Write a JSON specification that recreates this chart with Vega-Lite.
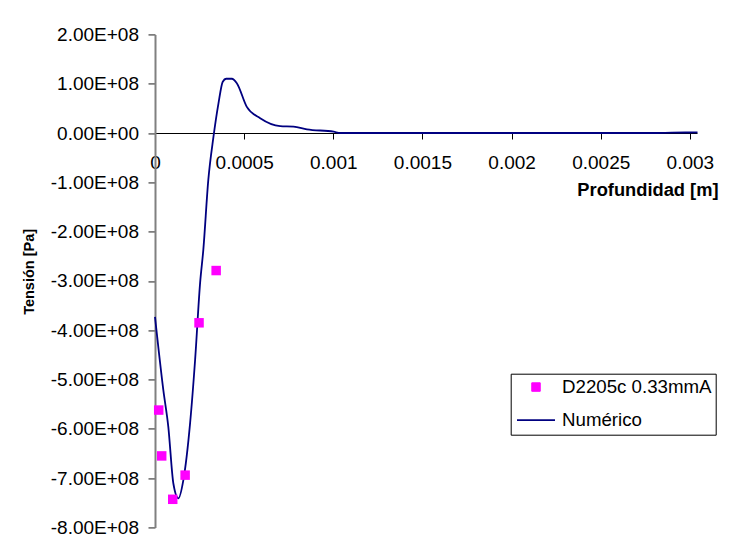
{
  "$schema": "https://vega.github.io/schema/vega-lite/v6.json",
  "autosize": "none",
  "width": 542,
  "height": 493,
  "padding": {"left": 155, "top": 34.4, "right": 47, "bottom": 30.6},
  "background": "white",
  "config": {
    "font": "Liberation Sans",
    "view": {"stroke": null},
    "axis": {"grid": false, "labelFont": "Liberation Sans", "titleFont": "Liberation Sans", "labelColor": "#000", "titleColor": "#000"}
  },
  "data": {"values": [
    {"series": "Numérico", "x": 0, "y": -373000000},
    {"series": "Numérico", "x": 0.0000466, "y": -521000000},
    {"series": "Numérico", "x": 0.0000747, "y": -596000000},
    {"series": "Numérico", "x": 0.000103, "y": -711000000},
    {"series": "Numérico", "x": 0.000131, "y": -741000000},
    {"series": "Numérico", "x": 0.000159, "y": -704000000},
    {"series": "Numérico", "x": 0.000197, "y": -588000000},
    {"series": "Numérico", "x": 0.000225, "y": -460000000},
    {"series": "Numérico", "x": 0.000253, "y": -304000000},
    {"series": "Numérico", "x": 0.000271, "y": -237000000},
    {"series": "Numérico", "x": 0.000299, "y": -95000000},
    {"series": "Numérico", "x": 0.000328, "y": -7500000},
    {"series": "Numérico", "x": 0.000356, "y": 60000000},
    {"series": "Numérico", "x": 0.00038, "y": 104000000},
    {"series": "Numérico", "x": 0.000399, "y": 110000000},
    {"series": "Numérico", "x": 0.000431, "y": 110000000},
    {"series": "Numérico", "x": 0.000459, "y": 101000000},
    {"series": "Numérico", "x": 0.000515, "y": 53000000},
    {"series": "Numérico", "x": 0.00059, "y": 30000000},
    {"series": "Numérico", "x": 0.000702, "y": 14000000},
    {"series": "Numérico", "x": 0.000777, "y": 13000000},
    {"series": "Numérico", "x": 0.000852, "y": 7500000},
    {"series": "Numérico", "x": 0.001002, "y": 2600000},
    {"series": "Numérico", "x": 0.00104, "y": 0},
    {"series": "Numérico", "x": 0.0015, "y": 0},
    {"series": "Numérico", "x": 0.002, "y": 0},
    {"series": "Numérico", "x": 0.0025, "y": 0},
    {"series": "Numérico", "x": 0.00278, "y": 0},
    {"series": "Numérico", "x": 0.0029, "y": 600000},
    {"series": "Numérico", "x": 0.003043, "y": 1300000},
    {"series": "D2205c 0.33mmA", "x": 0.0000208, "y": -562000000},
    {"series": "D2205c 0.33mmA", "x": 0.0000376, "y": -655000000},
    {"series": "D2205c 0.33mmA", "x": 0.0000994, "y": -743000000},
    {"series": "D2205c 0.33mmA", "x": 0.000169, "y": -694000000},
    {"series": "D2205c 0.33mmA", "x": 0.000247, "y": -385000000},
    {"series": "D2205c 0.33mmA", "x": 0.000343, "y": -279000000}
  ]},
  "encoding": {
    "x": {
      "field": "x", "type": "quantitative",
      "scale": {"domain": [0, 0.00304], "nice": false, "zero": false},
      "axis": {
        "title": "Profundidad [m]",
        "values": [0, 0.0005, 0.001, 0.0015, 0.002, 0.0025, 0.003],
        "format": ".4~f",
        "offset": -394.4,
        "labelFontSize": 19,
        "labelFlush": false,
        "labelOverlap": false,
        "labelBaseline": "alphabetic",
        "labelPadding": 29,
        "tickSize": 6,
        "tickColor": "#000",
        "domainColor": "#000",
        "domainWidth": 1,
        "titleFontSize": 18.3,
        "titleFontWeight": "bold",
        "titleX": 563,
        "titleY": 62.5,
        "titleAlign": "right",
        "titleBaseline": "alphabetic",
        "titleAnchor": "end"
      }
    },
    "y": {
      "field": "y", "type": "quantitative",
      "scale": {"domain": [-800000000, 200000000], "nice": false, "zero": false},
      "axis": {
        "title": "Tensión [Pa]",
        "values": [-800000000, -700000000, -600000000, -500000000, -400000000, -300000000, -200000000, -100000000, 0, 100000000, 200000000],
        "labelExpr": "datum.value == 0 ? '0.00E+00' : (datum.value < 0 ? '-' : '') + format(abs(datum.value)/100000000, '.2f') + 'E+08'",
        "labelFontSize": 19,
        "labelFlush": false,
        "labelOverlap": false,
        "labelPadding": 9.5,
        "tickSize": 7,
        "tickColor": "#666",
        "tickWidth": 1.5,
        "domainColor": "#808080",
        "domainWidth": 2,
        "titleFontSize": 14.5,
        "titleFontWeight": "bold",
        "titleX": -126,
        "titleY": 237,
        "titleAngle": -90,
        "titleAlign": "center",
        "titleBaseline": "middle"
      }
    },
    "color": {
      "field": "series", "type": "nominal",
      "scale": {"domain": ["D2205c 0.33mmA", "Numérico"], "range": ["#FF00FF", "#000080"]},
      "legend": {
        "title": null,
        "orient": "none",
        "legendX": 355.7,
        "legendY": 339.3,
        "strokeColor": "#000",
        "fillColor": "white",
        "padding": 4,
        "rowPadding": 13,
        "labelFontSize": 18.7,
        "labelColor": "#000",
        "labelFont": "Liberation Sans",
        "labelOffset": 6,
        "encode": {
          "symbols": {
            "update": {
              "shape": {"signal": "datum.value == 'Numérico' ? 'stroke' : 'square'"},
              "size": {"signal": "datum.value == 'Numérico' ? 1444 : 72"},
              "x": {"value": 21.3},
              "fill": {"scale": "color", "field": "value"},
              "stroke": {"scale": "color", "field": "value"},
              "strokeWidth": {"signal": "datum.value == 'Numérico' ? 1.8 : 1"},
              "opacity": {"value": 1},
              "fillOpacity": {"value": 1},
              "strokeOpacity": {"value": 1}
            }
          },
          "labels": {
            "update": {
              "x": {"value": 47.3}
            }
          }
        }
      }
    }
  },
  "layer": [
    {
      "transform": [{"filter": "datum.series == 'Numérico'"}],
      "mark": {"type": "line", "interpolate": "monotone", "strokeWidth": 1.8},
      "encoding": {"order": {"field": "x", "type": "quantitative"}}
    },
    {
      "transform": [{"filter": "datum.series == 'D2205c 0.33mmA'"}],
      "mark": {"type": "point", "shape": "square", "filled": true, "size": 90, "opacity": 1}
    }
  ]
}
